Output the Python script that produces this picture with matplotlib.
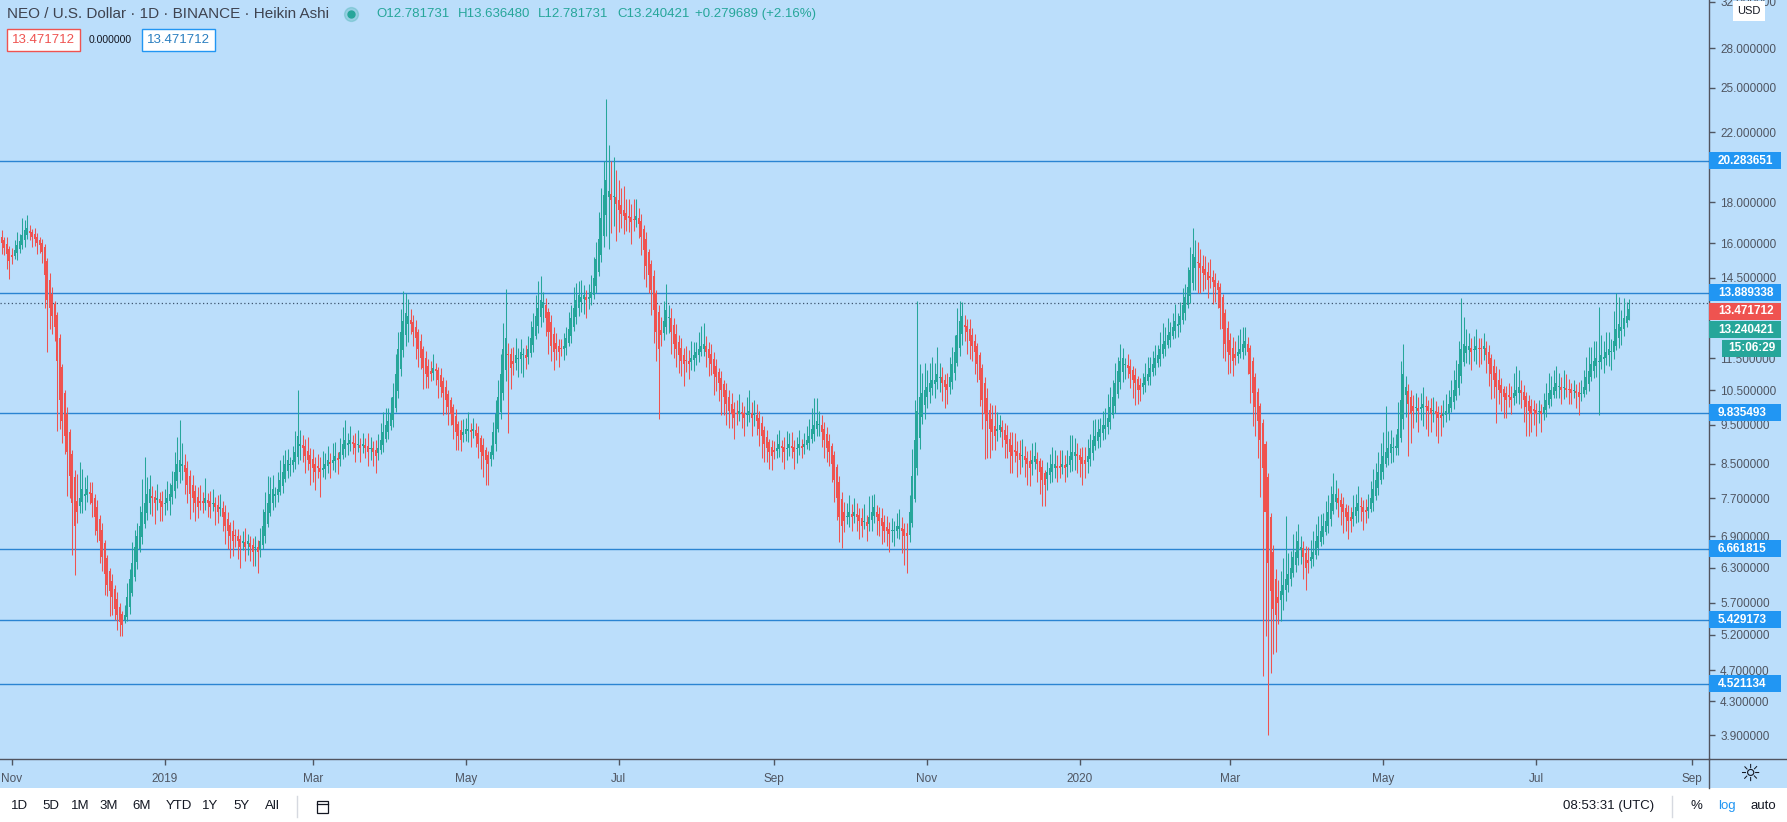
import datetime as dt
import numpy as np
import matplotlib
matplotlib.use('Agg')
import matplotlib.pyplot as plt
import matplotlib.dates as mdates
from matplotlib.patches import Rectangle
from matplotlib.lines import Line2D
from matplotlib.ticker import FixedLocator, NullLocator

W, H = 1787, 822
BG = '#BBDEFB'
UP = '#26A69A'
DOWN = '#EF5350'
BLUE = '#2196F3'
LEVEL_COLOR = '#2A84D2'
AXIS_TXT = '#4F5561'
DARK = '#131722'

# daily Heikin Ashi candles, first one on 2018-10-28
START_DAY = dt.date(2018, 10, 28)
FIRST_OPEN = 16.3
CLOSES = [
    16.0, 15.8, 15.5, 15.2, 15.4, 15.7, 15.9, 16.1, 16.4, 16.6,
    16.7, 16.5, 16.3, 16.2, 16.0, 15.9, 15.6, 14.6, 13.6, 13.3,
    13.0, 12.6, 11.4, 10.2, 9.6, 9.2, 8.8, 8.2, 7.6, 7.1,
    7.4, 7.7, 7.9, 7.8, 7.9, 7.8, 7.6, 7.3, 7.0, 6.8,
    6.5, 6.2, 6.0, 5.9, 5.8, 5.6, 5.5, 5.4, 5.35, 5.5,
    5.8, 6.1, 6.4, 6.7, 6.9, 7.1, 7.4, 7.6, 7.8, 7.9,
    7.7, 7.6, 7.7, 7.6, 7.5, 7.6, 7.7, 7.8, 8.0, 8.3,
    8.5, 8.6, 8.5, 8.3, 8.0, 7.8, 7.7, 7.6, 7.5, 7.6,
    7.6, 7.7, 7.6, 7.5, 7.6, 7.5, 7.4, 7.5, 7.3, 7.1,
    7.0, 6.9, 6.8, 6.9, 6.8, 6.7, 6.8, 6.7, 6.8, 6.7,
    6.6, 6.7, 6.6, 6.8, 7.1, 7.4, 7.6, 7.8, 7.9, 7.8,
    7.9, 8.1, 8.3, 8.5, 8.6, 8.5, 8.6, 8.8, 9.2, 9.0,
    8.9, 8.7, 8.6, 8.5, 8.4, 8.3, 8.4, 8.3, 8.4, 8.5,
    8.6, 8.5, 8.6, 8.7, 8.6, 8.8, 9.0, 9.1, 9.0, 9.1,
    9.0, 8.9, 9.0, 8.9, 9.0, 8.9, 8.8, 8.9, 8.8, 8.7,
    8.9, 9.1, 9.3, 9.5, 9.6, 9.8, 10.3, 11.0, 11.8, 12.4,
    12.8, 13.1, 13.0, 12.7, 12.4, 12.2, 11.8, 11.5, 11.2, 11.0,
    10.9, 11.0, 11.2, 11.1, 10.8, 10.6, 10.4, 10.2, 10.0, 9.8,
    9.5, 9.3, 9.2, 9.1, 9.3, 9.4, 9.4, 9.3, 9.4, 9.2,
    9.0, 8.8, 8.7, 8.6, 8.5, 8.8, 9.3, 9.8, 10.3, 11.0,
    11.8, 12.2, 11.6, 11.2, 11.3, 11.6, 11.5, 11.7, 11.6, 11.5,
    11.8, 12.2, 12.6, 13.0, 13.3, 13.6, 13.5, 12.9, 12.4, 11.9,
    11.7, 11.8, 11.7, 11.8, 11.9, 12.2, 12.5, 12.9, 13.3, 13.6,
    13.8, 13.7, 13.8, 13.6, 13.7, 13.9, 14.5, 15.3, 16.2, 17.2,
    18.4, 19.2, 18.6, 18.1, 18.3, 17.9, 17.6, 17.4, 17.3, 17.1,
    17.2, 17.0, 17.1, 17.3, 16.9, 16.3, 15.7, 15.0, 14.6, 14.0,
    13.2, 12.4, 11.8, 12.3, 12.8, 13.2, 12.9, 12.4, 12.0, 11.8,
    11.6, 11.4, 11.3, 11.4, 11.3, 11.5, 11.6, 11.7, 11.8, 11.9,
    12.0, 11.7, 11.5, 11.3, 11.0, 10.9, 10.7, 10.5, 10.3, 10.1,
    9.9, 9.8, 9.7, 9.8, 9.9, 9.8, 9.7, 9.8, 9.9, 9.7,
    9.8, 9.6, 9.4, 9.2, 9.0, 8.9, 8.8, 8.7, 8.8, 8.9,
    9.0, 8.9, 8.8, 8.9, 9.0, 8.9, 8.8, 8.9, 9.0, 8.9,
    9.0, 9.1, 9.2, 9.4, 9.5, 9.6, 9.5, 9.3, 9.1, 8.9,
    8.8, 8.5, 8.1, 7.7, 7.3, 7.1, 7.2, 7.3, 7.4, 7.3,
    7.4, 7.3, 7.2, 7.1, 7.2, 7.1, 7.3, 7.4, 7.5, 7.3,
    7.2, 7.1, 7.0, 7.0, 6.95, 7.0, 7.0, 7.1, 7.1, 7.0,
    6.9, 6.9, 7.4, 8.2, 9.1, 9.9, 10.3, 10.4, 10.5, 10.6,
    10.7, 10.8, 10.8, 11.0, 10.9, 10.7, 10.6, 10.5, 10.9, 11.3,
    11.7, 12.3, 12.8, 13.0, 12.6, 12.4, 12.1, 11.9, 11.7, 11.3,
    10.8, 10.2, 9.8, 9.6, 9.4, 9.3, 9.2, 9.4, 9.5, 9.3,
    9.1, 9.0, 8.8, 8.7, 8.8, 8.7, 8.6, 8.7, 8.6, 8.5,
    8.4, 8.6, 8.7, 8.5, 8.3, 8.1, 8.0, 8.3, 8.4, 8.5,
    8.5, 8.4, 8.4, 8.5, 8.4, 8.5, 8.7, 8.8, 8.8, 8.7,
    8.6, 8.5, 8.5, 8.7, 8.9, 9.1, 9.2, 9.3, 9.4, 9.5,
    9.5, 9.7, 10.0, 10.3, 10.7, 11.1, 11.4, 11.5, 11.3, 11.2,
    11.0, 10.8, 10.7, 10.5, 10.5, 10.7, 10.9, 11.0, 11.2, 11.3,
    11.5, 11.6, 11.8, 12.0, 12.1, 12.3, 12.4, 12.6, 12.8, 12.7,
    13.0, 13.4, 13.7, 14.1, 14.8, 15.5, 15.4, 15.1, 14.9, 14.7,
    14.6, 14.4, 14.5, 14.3, 14.1, 14.0, 13.3, 12.5, 12.0, 11.7,
    11.6, 11.4, 11.5, 11.7, 11.8, 12.0, 12.1, 11.7, 11.0, 10.4,
    10.0, 9.6, 9.1, 8.4, 7.4, 6.4, 5.9, 5.6, 5.5, 5.7,
    5.9, 6.0, 6.1, 6.2, 6.3, 6.5, 6.6, 6.8, 6.7, 6.5,
    6.3, 6.4, 6.5, 6.6, 6.8, 6.9, 7.0, 7.1, 7.2, 7.4,
    7.6, 7.8, 7.8, 7.6, 7.5, 7.4, 7.3, 7.2, 7.2, 7.4,
    7.5, 7.6, 7.5, 7.4, 7.4, 7.5, 7.7, 7.9, 8.1, 8.3,
    8.5, 8.7, 8.8, 8.9, 9.0, 8.9, 8.9, 9.4, 10.2, 11.0,
    10.6, 10.1, 9.8, 9.9, 10.0, 9.9, 10.0, 10.1, 10.0, 9.9,
    9.8, 9.9, 9.8, 9.7, 9.7, 9.8, 9.9, 10.1, 10.3, 10.5,
    10.8, 11.3, 11.8, 12.0, 11.9, 11.9, 11.7, 11.8, 11.9, 11.8,
    11.8, 11.9, 11.6, 11.3, 11.0, 10.8, 10.6, 10.5, 10.4, 10.3,
    10.2, 10.3, 10.2, 10.4, 10.5, 10.6, 10.4, 10.2, 10.0, 9.9,
    9.8, 9.9, 9.8, 9.9, 9.8, 10.0, 10.2, 10.4, 10.5, 10.6,
    10.7, 10.6, 10.5, 10.6, 10.5, 10.5, 10.4, 10.5, 10.4, 10.3,
    10.4, 10.6, 10.9, 11.1, 11.3, 11.4, 11.5, 11.4, 11.6, 11.5,
    11.7, 11.8, 11.7, 12.1, 12.5, 12.7, 12.6, 12.9, 13.0, 13.240421,
]
# wick length above / below the body, in percent of the body edge
WICK_UP = [
    2, 1, 2, 1, 2, 3, 4, 2, 5, 3,
    4, 2, 1, 2, 1, 1, 1, 1, 1, 2,
    2, 1, 1, 1, 1, 1, 2, 1, 1, 2,
    8, 11, 6, 5, 4, 3, 3, 1, 2, 1,
    2, 1, 1, 1, 2, 1, 2, 1, 1, 3,
    4, 3, 6, 5, 4, 6, 10, 14, 5, 4,
    3, 2, 4, 2, 3, 4, 5, 3, 4, 6,
    8, 12, 6, 3, 2, 2, 3, 2, 3, 5,
    3, 6, 2, 3, 4, 2, 3, 4, 2, 2,
    2, 1, 3, 2, 2, 1, 3, 4, 2, 2,
    2, 3, 2, 4, 5, 6, 8, 5, 4, 2,
    5, 6, 5, 4, 3, 2, 4, 6, 14, 4,
    3, 2, 4, 2, 3, 2, 4, 3, 5, 3,
    4, 3, 5, 4, 2, 4, 5, 6, 3, 4,
    2, 3, 4, 2, 3, 2, 4, 3, 2, 3,
    4, 5, 6, 5, 4, 5, 4, 6, 5, 7,
    9, 6, 5, 3, 2, 2, 1, 2, 1, 2,
    2, 3, 4, 2, 1, 2, 1, 2, 1, 1,
    1, 2, 1, 3, 4, 3, 5, 2, 3, 2,
    2, 1, 2, 1, 1, 2, 3, 4, 5, 6,
    8, 15, 3, 2, 4, 5, 3, 4, 2, 3,
    4, 5, 4, 6, 8, 7, 3, 2, 1, 2,
    2, 3, 2, 3, 4, 3, 5, 4, 6, 5,
    4, 5, 3, 2, 4, 5, 6, 5, 8, 9,
    10, 26, 14, 10, 12, 8, 6, 5, 7, 4,
    5, 4, 6, 5, 3, 2, 1, 2, 1, 1,
    2, 1, 2, 4, 6, 8, 4, 3, 2, 3,
    2, 3, 2, 4, 3, 5, 4, 3, 5, 6,
    6, 3, 2, 3, 2, 2, 1, 2, 1, 2,
    2, 3, 2, 4, 5, 3, 2, 5, 6, 3,
    4, 3, 2, 2, 1, 2, 1, 2, 3, 4,
    4, 2, 3, 5, 3, 4, 2, 3, 4, 2,
    3, 4, 5, 6, 8, 7, 4, 3, 2, 2,
    2, 1, 1, 1, 2, 2, 3, 4, 5, 3,
    4, 3, 2, 3, 5, 2, 6, 5, 4, 2,
    2, 3, 2, 3, 2, 4, 3, 4, 5, 3,
    2, 3, 5, 8, 12, 37, 10, 6, 8, 5,
    6, 7, 5, 8, 4, 3, 2, 3, 6, 5,
    5, 8, 6, 4, 3, 2, 3, 2, 2, 1,
    1, 1, 2, 3, 2, 4, 6, 5, 3, 2,
    2, 3, 2, 4, 5, 3, 4, 5, 3, 2,
    3, 5, 4, 2, 1, 2, 1, 3, 4, 5,
    4, 3, 5, 4, 3, 4, 6, 5, 4, 3,
    2, 3, 4, 5, 4, 6, 5, 4, 3, 4,
    5, 7, 6, 5, 6, 4, 5, 3, 2, 3,
    2, 1, 2, 1, 2, 3, 4, 5, 3, 4,
    4, 3, 5, 6, 4, 5, 3, 4, 5, 3,
    4, 5, 4, 6, 7, 8, 5, 6, 4, 3,
    4, 3, 5, 2, 2, 1, 1, 1, 1, 2,
    2, 3, 4, 5, 6, 5, 4, 2, 1, 1,
    1, 1, 1, 1, 1, 1, 1, 2, 3, 5,
    6, 8, 20, 6, 5, 7, 6, 5, 3, 2,
    2, 4, 5, 6, 5, 6, 5, 4, 6, 5,
    5, 6, 4, 3, 2, 2, 1, 2, 3, 5,
    4, 5, 3, 2, 3, 4, 5, 6, 5, 6,
    6, 7, 14, 5, 4, 3, 4, 8, 12, 9,
    3, 2, 2, 3, 4, 3, 4, 5, 3, 2,
    3, 4, 3, 2, 3, 4, 5, 4, 5, 6,
    6, 7, 16, 8, 5, 4, 3, 4, 5, 3,
    3, 4, 2, 2, 1, 2, 2, 3, 2, 1,
    2, 4, 3, 6, 7, 5, 3, 2, 1, 2,
    2, 3, 2, 3, 2, 4, 5, 6, 4, 5,
    5, 4, 3, 5, 4, 3, 2, 3, 2, 3,
    4, 5, 6, 7, 5, 6, 5, 17, 6, 5,
    6, 5, 4, 9, 11, 8, 5, 6, 4, 3,
]
WICK_DN = [
    3, 2, 4, 5, 2, 1, 2, 1, 1, 2,
    1, 2, 3, 2, 3, 2, 3, 9, 14, 6,
    5, 4, 18, 8, 6, 5, 12, 6, 14, 13,
    3, 2, 3, 4, 2, 3, 4, 5, 3, 6,
    4, 6, 3, 7, 5, 3, 4, 4, 3, 1,
    1, 2, 1, 1, 2, 1, 2, 1, 2, 3,
    5, 6, 3, 5, 4, 3, 2, 4, 2, 2,
    2, 3, 4, 6, 5, 7, 4, 5, 3, 2,
    3, 2, 4, 3, 2, 5, 3, 2, 4, 5,
    5, 6, 4, 3, 5, 6, 2, 4, 3, 4,
    4, 5, 6, 2, 1, 2, 1, 1, 2, 3,
    2, 1, 2, 1, 2, 3, 2, 2, 2, 4,
    4, 5, 3, 6, 4, 5, 3, 7, 2, 3,
    2, 4, 2, 3, 4, 2, 1, 2, 3, 2,
    3, 4, 2, 4, 2, 3, 4, 3, 4, 5,
    2, 1, 2, 1, 2, 1, 2, 1, 2, 2,
    2, 3, 5, 3, 4, 6, 5, 3, 6, 4,
    3, 2, 2, 4, 5, 3, 6, 4, 5, 3,
    4, 5, 4, 3, 2, 2, 3, 4, 2, 3,
    4, 5, 6, 7, 6, 2, 1, 2, 1, 2,
    2, 3, 20, 6, 3, 2, 5, 4, 6, 3,
    2, 1, 2, 1, 2, 3, 4, 5, 6, 4,
    5, 3, 4, 2, 3, 2, 1, 2, 1, 2,
    2, 3, 4, 5, 3, 2, 1, 2, 1, 2,
    3, 6, 14, 9, 8, 10, 6, 4, 5, 3,
    4, 6, 3, 2, 4, 5, 8, 6, 5, 7,
    9, 8, 18, 3, 2, 2, 4, 6, 4, 5,
    5, 4, 6, 3, 4, 2, 3, 2, 2, 1,
    2, 4, 5, 3, 6, 4, 5, 7, 5, 6,
    5, 4, 6, 3, 2, 4, 5, 3, 2, 5,
    3, 4, 5, 6, 5, 4, 5, 4, 2, 2,
    2, 4, 5, 3, 2, 3, 5, 4, 2, 3,
    2, 1, 2, 1, 2, 2, 3, 4, 5, 4,
    4, 5, 6, 6, 7, 6, 3, 2, 3, 4,
    2, 4, 5, 3, 2, 4, 2, 3, 2, 5,
    4, 5, 3, 4, 5, 3, 4, 2, 3, 6,
    8, 10, 2, 1, 1, 2, 3, 2, 4, 3,
    3, 2, 4, 2, 4, 5, 6, 4, 2, 2,
    2, 1, 2, 3, 4, 6, 5, 4, 6, 5,
    7, 8, 12, 10, 8, 5, 4, 3, 2, 4,
    5, 4, 6, 5, 3, 6, 4, 3, 5, 6,
    5, 3, 2, 5, 6, 7, 6, 3, 2, 3,
    3, 4, 3, 2, 4, 3, 2, 3, 4, 5,
    5, 6, 4, 3, 2, 2, 1, 2, 3, 2,
    3, 2, 2, 1, 2, 1, 2, 3, 4, 3,
    4, 5, 6, 4, 3, 2, 2, 1, 2, 1,
    2, 1, 2, 1, 2, 1, 2, 1, 2, 3,
    2, 1, 2, 1, 2, 2, 6, 8, 7, 5,
    4, 5, 3, 6, 4, 5, 6, 8, 5, 6,
    5, 4, 2, 2, 1, 2, 2, 6, 8, 9,
    8, 10, 15, 45, 30, 39, 21, 12, 10, 6,
    6, 4, 3, 2, 2, 1, 2, 2, 4, 6,
    6, 3, 2, 2, 1, 2, 1, 2, 1, 2,
    2, 1, 2, 4, 5, 6, 4, 5, 3, 2,
    2, 3, 4, 5, 3, 2, 1, 2, 1, 2,
    1, 2, 1, 2, 3, 4, 2, 2, 1, 3,
    6, 14, 8, 5, 4, 6, 3, 5, 6, 7,
    5, 3, 6, 7, 5, 3, 2, 2, 1, 2,
    1, 2, 2, 1, 3, 4, 5, 3, 4, 5,
    4, 3, 5, 6, 7, 5, 10, 4, 5, 6,
    5, 3, 4, 2, 2, 3, 4, 6, 8, 7,
    5, 4, 6, 3, 5, 2, 2, 1, 2, 1,
    2, 3, 4, 3, 2, 4, 3, 2, 4, 5,
    2, 1, 1, 2, 1, 2, 3, 14, 2, 4,
    2, 3, 5, 2, 1, 3, 4, 2, 1, 0,
]

# horizontal levels drawn on the chart
LEVELS = [20.283651, 13.889338, 9.835493, 6.661815, 5.429173, 4.521134]
LAST_PRICE = 13.471712
LAST_CLOSE = 13.240421
COUNTDOWN = '15:06:29'

PRICE_TICKS = [3.9, 4.3, 4.7, 5.2, 5.7, 6.3, 6.9, 7.7, 8.5, 9.5, 10.5, 11.5,
               14.5, 16.0, 18.0, 22.0, 25.0, 28.0, 32.0]
MONTH_DATES = [dt.date(2018, 11, 1), dt.date(2019, 1, 1), dt.date(2019, 3, 1),
               dt.date(2019, 5, 1), dt.date(2019, 7, 1), dt.date(2019, 9, 1),
               dt.date(2019, 11, 1), dt.date(2020, 1, 1), dt.date(2020, 3, 1),
               dt.date(2020, 5, 1), dt.date(2020, 7, 1), dt.date(2020, 9, 1)]
MONTH_LABELS = ['Nov', '2019', 'Mar', 'May', 'Jul', 'Sep',
                'Nov', '2020', 'Mar', 'May', 'Jul', 'Sep']

plt.rcParams['font.family'] = ['Liberation Sans', 'DejaVu Sans']


def fx(px):
    return px / W


def fy(py):
    return 1 - py / H


def heikin_ashi():
    closes = np.array(CLOSES, dtype=float)
    opens = np.empty_like(closes)
    opens[0] = FIRST_OPEN
    for i in range(1, len(closes)):
        opens[i] = (opens[i - 1] + closes[i - 1]) / 2
    top = np.maximum(opens, closes)
    bot = np.minimum(opens, closes)
    highs = top * (1 + np.array(WICK_UP) / 100.0)
    lows = bot * (1 - np.array(WICK_DN) / 100.0)
    return opens, closes, top, bot, highs, lows


fig = plt.figure(figsize=(W / 100, H / 100), dpi=100, facecolor=BG)
AX_RIGHT = 1709
AX_BOTTOM = 759
ax = fig.add_axes([0, fy(AX_BOTTOM), fx(AX_RIGHT), AX_BOTTOM / H])
ax.set_facecolor(BG)

opens, closes, top, bot, highs, lows = heikin_ashi()
x0 = mdates.date2num(START_DAY)
xs = x0 + np.arange(len(closes))
colors = np.where(closes >= opens, UP, DOWN)

# keep very flat bodies at least about one pixel tall
body_top = np.maximum(top, bot * 1.004)
ax.vlines(xs, lows, highs, colors=colors, linewidth=0.75, zorder=3)
ax.bar(xs, body_top - bot, bottom=bot, width=0.8, color=colors, linewidth=0, zorder=3)

for lvl in LEVELS:
    ax.axhline(lvl, color=LEVEL_COLOR, linewidth=1.0, zorder=2)
ax.axhline(LAST_PRICE, color='#3d5670', linewidth=0.9, linestyle=(0, (1, 2)), zorder=2)

nov1 = mdates.date2num(dt.date(2018, 11, 1))
px_per_day = 2.507
ax.set_xlim(nov1 - 12 / px_per_day, nov1 + (AX_RIGHT - 12) / px_per_day)
ax.set_yscale('log')
ax.set_ylim(3.641, 32.17)

ax.yaxis.tick_right()
ax.yaxis.set_major_locator(FixedLocator(PRICE_TICKS))
ax.yaxis.set_minor_locator(NullLocator())
ax.set_yticklabels([f'{v:.6f}' for v in PRICE_TICKS])
ax.set_xticks([mdates.date2num(d) for d in MONTH_DATES])
ax.set_xticklabels(MONTH_LABELS)
ax.tick_params(axis='y', direction='out', length=4, width=1, pad=4,
               labelsize=8.5, colors=AXIS_TXT)
ax.tick_params(axis='x', direction='out', length=4, width=1, pad=6,
               labelsize=8.5, colors=AXIS_TXT)
for side in ['top', 'left']:
    ax.spines[side].set_visible(False)
for side in ['right', 'bottom']:
    ax.spines[side].set_color('#50535E')
    ax.spines[side].set_linewidth(1)

# axis corner lines and bottom toolbar
fig.add_artist(Line2D([fx(AX_RIGHT), 1], [fy(AX_BOTTOM)] * 2, color='#50535E', lw=1))
fig.add_artist(Line2D([fx(AX_RIGHT)] * 2, [fy(AX_BOTTOM), fy(788)], color='#50535E', lw=1))
fig.add_artist(Rectangle((0, 0), 1, fy(788), transform=fig.transFigure,
                         facecolor='white', edgecolor='none', zorder=1))
fig.text(fx(1750), fy(774), '☼', fontsize=17, color=DARK, ha='center', va='center',
         family=['DejaVu Sans'])

# price labels on the right axis, stacked when they collide
labels = [(LEVELS[0], f'{LEVELS[0]:.6f}', BLUE, 0),
          (LEVELS[1], f'{LEVELS[1]:.6f}', BLUE, 0),
          (LAST_PRICE, f'{LAST_PRICE:.6f}', DOWN, 0),
          (LAST_CLOSE, f'{LAST_CLOSE:.6f}', UP, 0),
          (LAST_CLOSE, COUNTDOWN, UP, 1),
          (LEVELS[2], f'{LEVELS[2]:.6f}', BLUE, 0),
          (LEVELS[3], f'{LEVELS[3]:.6f}', BLUE, 0),
          (LEVELS[4], f'{LEVELS[4]:.6f}', BLUE, 0),
          (LEVELS[5], f'{LEVELS[5]:.6f}', BLUE, 0)]
box_h = 17
step = 18.5
prev = -100
for price, text, face, narrow in labels:
    yimg = H - ax.transData.transform((ax.get_xlim()[0], price))[1]
    if yimg < prev + step:
        yimg = prev + step
    prev = yimg
    left = AX_RIGHT + (13 if narrow else 0)
    width = 72 - (13 if narrow else 0)
    fig.add_artist(Rectangle((fx(left), fy(yimg + box_h / 2)), width / W, box_h / H,
                             transform=fig.transFigure, facecolor=face,
                             edgecolor='none', zorder=5))
    fig.text(fx(left + (6 if narrow else 9)), fy(yimg), text, color='white',
             fontsize=8.5, fontweight='bold', va='center', ha='left', zorder=6)

# USD badge
fig.add_artist(Rectangle((fx(1733), fy(21)), 32 / W, 20 / H, transform=fig.transFigure,
                         facecolor='white', edgecolor='none', zorder=5))
fig.text(fx(1749), fy(11), 'USD', fontsize=8, color=DARK, ha='center', va='center', zorder=6)

# legend header
fig.text(fx(7), fy(14), 'NEO / U.S. Dollar · 1D · BINANCE · Heikin Ashi',
         fontsize=11, color='#3E4350', va='center')
fig.add_artist(Line2D([fx(351)], [fy(14)], marker='o', markersize=10, color=UP,
                      alpha=0.25, linestyle='none'))
fig.add_artist(Line2D([fx(351)], [fy(14)], marker='o', markersize=5, color=UP,
                      linestyle='none'))
for xp, txt in [(376, 'O12.781731'), (458, 'H13.636480'), (538, 'L12.781731'),
                (617, 'C13.240421'), (695, '+0.279689 (+2.16%)')]:
    fig.text(fx(xp), fy(14), txt, fontsize=9.5, color=UP, va='center')

fig.add_artist(Rectangle((fx(7), fy(51)), 73 / W, 22 / H, transform=fig.transFigure,
                         facecolor='white', edgecolor=DOWN, lw=1, zorder=5))
fig.text(fx(43.5), fy(40), f'{LAST_PRICE:.6f}', fontsize=9.5, color=DOWN,
         ha='center', va='center', zorder=6)
fig.text(fx(89), fy(40), '0.000000', fontsize=7.5, color=DARK, va='center')
fig.add_artist(Rectangle((fx(142), fy(51)), 73 / W, 22 / H, transform=fig.transFigure,
                         facecolor='white', edgecolor=BLUE, lw=1, zorder=5))
fig.text(fx(178.5), fy(40), f'{LAST_PRICE:.6f}', fontsize=9.5, color='#2a7fc0',
         ha='center', va='center', zorder=6)

# toolbar
for xp, txt in [(20, '1D'), (51, '5D'), (80, '1M'), (109, '3M'), (142, '6M'),
                (179, 'YTD'), (210, '1Y'), (241, '5Y'), (272, 'All')]:
    fig.text(fx(xp), fy(806), txt, fontsize=9.5, color=DARK, ha='center', va='center', zorder=6)
fig.add_artist(Line2D([fx(297)] * 2, [fy(796), fy(817)], color='#D6D9E0', lw=1, zorder=6))
fig.add_artist(Line2D([fx(1672)] * 2, [fy(796), fy(817)], color='#D6D9E0', lw=1, zorder=6))
fig.add_artist(Rectangle((fx(317), fy(813)), 11 / W, 12 / H, transform=fig.transFigure,
                         facecolor='none', edgecolor=DARK, lw=0.9, zorder=6))
fig.add_artist(Line2D([fx(317), fx(328)], [fy(804)] * 2, color=DARK, lw=0.9, zorder=6))
fig.text(fx(1609), fy(806), '08:53:31 (UTC)', fontsize=9.5, color=DARK,
         ha='center', va='center', zorder=6)
fig.text(fx(1696), fy(806), '%', fontsize=9.5, color=DARK, ha='center', va='center', zorder=6)
fig.text(fx(1727), fy(806), 'log', fontsize=9.5, color=BLUE, ha='center', va='center', zorder=6)
fig.text(fx(1763), fy(806), 'auto', fontsize=9.5, color=DARK, ha='center', va='center', zorder=6)

fig.savefig('out.png', dpi=100, facecolor=BG)
